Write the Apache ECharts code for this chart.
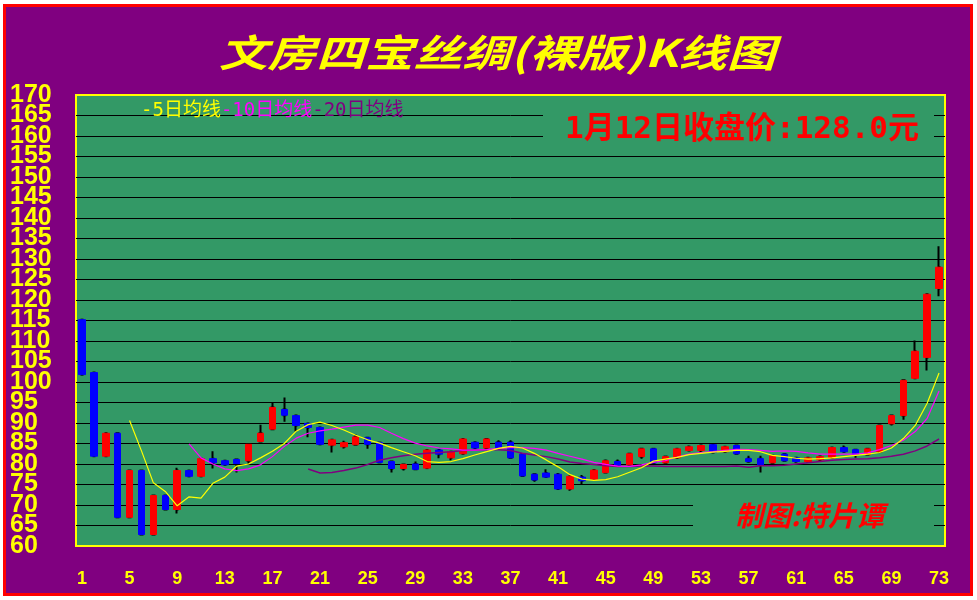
<!DOCTYPE html>
<html>
<head>
<meta charset="utf-8">
<script src="https://cdn.jsdelivr.net/npm/echarts@6/dist/echarts.min.js"></script>
<style>
html,body{margin:0;padding:0;background:#ffffff;}
#c{width:977px;height:600px;}
</style>
</head>
<body>
<div id="c"></div>
<script>
const categories = ['1','2','3','4','5','6','7','8','9','10','11','12','13','14','15','16','17','18','19','20',
'21','22','23','24','25','26','27','28','29','30','31','32','33','34','35','36','37','38','39','40',
'41','42','43','44','45','46','47','48','49','50','51','52','53','54','55','56','57','58','59','60',
'61','62','63','64','65','66','67','68','69','70','71','72','73'];

const opens = [115.2,102.3,81.9,87.5,67.0,78.4,62.8,72.3,68.9,78.4,
77.0,81.3,80.8,81.1,80.8,85.5,88.5,93.3,91.8,89.9,
88.9,84.6,84.2,84.7,86.4,85.2,80.6,78.9,80.0,79.0,
83.4,81.5,82.5,85.3,83.9,85.3,85.3,82.4,77.5,77.8,
77.5,73.9,76.8,76.3,77.9,80.6,79.8,81.8,83.7,80.3,
81.5,83.3,83.3,84.7,83.0,84.5,81.3,81.3,80.3,82.4,
81.5,80.6,81.0,81.5,84.0,83.5,82.3,83.0,89.8,91.8,
100.9,106.0,122.8];
const closes = [101.8,81.9,87.5,67.0,78.4,62.8,72.3,68.9,78.4,77.0,
81.3,80.3,79.8,80.1,84.8,87.5,93.8,91.9,89.4,88.9,
84.8,85.9,85.2,86.6,84.8,80.4,78.9,79.9,78.7,83.4,
82.4,83.0,86.1,83.9,86.1,83.9,81.5,77.1,76.1,76.8,
73.9,77.0,75.9,78.5,80.8,79.6,82.5,83.7,80.3,81.8,
83.7,84.2,84.5,82.8,84.2,82.5,80.6,79.8,82.0,80.8,
80.6,81.5,81.8,84.0,83.0,82.3,83.7,89.4,91.8,100.4,
107.5,121.4,128.0];
const lows = [101.8,81.9,81.9,67.0,67.0,62.8,62.8,68.9,67.9,77.0,
77.0,78.9,79.8,77.9,80.1,85.5,88.5,90.3,87.9,86.5,
84.8,82.8,83.8,84.7,83.7,80.4,77.9,78.4,78.5,79.0,
81.4,80.9,82.5,83.9,83.9,83.9,81.5,77.1,75.7,76.8,
73.9,73.5,75.1,76.3,77.9,79.6,79.8,81.3,80.3,80.3,
81.5,83.3,82.5,82.8,83.0,82.5,80.3,77.9,80.3,80.8,
80.3,80.3,80.8,81.5,83.0,81.5,82.3,82.8,89.4,90.8,
100.9,102.8,120.9];
const highs = [115.2,102.3,87.5,87.5,78.4,78.4,72.3,72.3,79.1,78.4,
81.3,83.1,80.8,81.1,84.8,89.6,94.9,96.2,91.8,89.9,
88.9,85.9,85.7,87.2,86.4,85.2,80.6,79.9,80.6,83.4,
83.4,83.0,86.3,85.3,86.3,85.8,85.8,82.4,77.5,78.7,
77.8,77.0,77.3,78.5,81.1,81.1,82.5,83.7,83.7,81.8,
83.7,84.5,84.5,84.7,84.2,84.5,82.0,82.0,82.0,82.4,
81.5,81.5,81.8,84.0,84.5,83.5,83.7,89.6,92.0,100.4,
110.1,121.4,133.1];

const ma5 = [null,null,null,null,90.6,83.2,75.4,73.3,69.8,72.0,
71.7,75.3,76.8,79.5,80.0,81.5,83.1,85.0,88.0,89.6,
90.2,89.4,88.3,87.0,85.9,85.1,84.0,83.0,82.0,80.6,
80.4,80.6,81.3,82.2,83.0,83.8,84.3,83.9,82.6,81.0,
79.3,77.4,76.3,76.0,76.2,76.9,78.0,79.1,80.7,81.2,
81.6,82.3,82.6,82.9,83.1,83.3,83.3,83.0,82.1,81.8,
81.4,81.2,81.3,81.5,81.8,82.1,82.4,82.8,83.9,86.2,
89.4,94.8,102.2];
const ma10 = [null,null,null,null,null,null,null,null,null,84.9,
81.5,80.0,78.8,78.4,78.8,79.8,81.8,84.3,86.3,87.5,
88.1,88.5,89.0,89.5,89.5,88.9,87.5,86.2,85.1,84.4,
83.9,83.7,83.4,83.4,83.5,83.8,84.0,84.0,83.8,83.4,
82.6,81.9,81.2,80.4,79.9,79.5,79.4,79.8,80.4,80.8,
81.7,82.4,82.8,83.0,83.3,83.6,83.5,83.3,83.1,83.2,
83.1,82.7,82.4,82.4,82.4,82.4,82.7,83.5,84.5,85.8,
87.9,91.1,97.8];
const ma20 = [null,null,null,null,null,null,null,null,null,null,
null,null,null,null,null,null,null,null,null,78.8,
77.8,77.9,78.4,79.0,79.9,80.9,81.5,82.0,82.4,82.6,
82.8,83.0,83.3,83.4,83.5,83.5,83.3,82.6,82.2,81.8,
81.2,80.5,80.1,79.9,79.6,79.4,79.4,79.5,79.5,79.4,
79.4,79.4,79.4,79.4,79.4,79.5,79.2,79.6,79.6,79.7,
80.0,80.3,80.6,80.9,81.1,81.2,81.3,81.5,81.9,82.4,
83.2,84.4,86.1];

const titleText = '文房四宝丝绸(裸版)K线图';
const priceText = '1月12日收盘价:128.0元';
const authorText = '制图:特片谭';

const ohlc = categories.map((_, i) => [opens[i], closes[i], lows[i], highs[i]]);
const bodies = categories.map((_, i) => [opens[i], closes[i], Math.min(opens[i], closes[i]), Math.max(opens[i], closes[i])]);

const yLabelStyle = {
  color: '#ffff00', fontSize: 25, fontWeight: 'bold',
  fontFamily: 'Liberation Sans', align: 'left', verticalAlign: 'middle', margin: 66,
  padding: [3, 0, 0, 0]
};

const chart = echarts.init(document.getElementById('c'));
chart.setOption({
  animation: false,
  backgroundColor: '#800080',
  grid: {
    left: 76, right: 32, top: 95, bottom: 54,
    show: true, backgroundColor: '#339966',
    borderColor: '#ffff00', borderWidth: 2
  },
  xAxis: {
    type: 'category',
    data: categories,
    boundaryGap: true,
    axisLine: { show: false },
    axisTick: { show: false },
    splitLine: { show: false },
    axisLabel: {
      interval: 3, color: '#ffff00', fontSize: 18, fontWeight: 'bold',
      fontFamily: 'Liberation Sans', margin: 24
    }
  },
  yAxis: [
    {
      type: 'value', position: 'left',
      min: 60, max: 170, interval: 5,
      axisLine: { show: false },
      axisTick: { show: false },
      splitLine: { show: true, showMinLine: false, showMaxLine: false, lineStyle: { color: '#000000', width: 1 } },
      axisLabel: Object.assign({}, yLabelStyle, {
        showMinLabel: true, showMaxLabel: true,
        formatter: (v) => (v % 10 === 0 ? String(v) : '')
      })
    },
    {
      type: 'value', position: 'left', offset: 0,
      min: 60, max: 170, interval: 5,
      axisLine: { show: false },
      axisTick: { show: false },
      splitLine: { show: false },
      axisLabel: Object.assign({}, yLabelStyle, {
        formatter: (v) => (v % 10 === 5 ? String(v) : '')
      })
    }
  ],
  graphic: [
    { type: 'rect', silent: true, z: 100,
      shape: { x: 1, y: 1, width: 975, height: 598 },
      style: { fill: 'none', stroke: '#ffffff', lineWidth: 6 } },
    { type: 'rect', silent: true, z: 100,
      shape: { x: 4.5, y: 5.5, width: 967, height: 589 },
      style: { fill: 'none', stroke: '#ff0000', lineWidth: 3 } },
    { type: 'text', silent: true, z: 100, x: 497, y: 53, scaleX: 1.28,
      style: { text: titleText, fill: '#ffff00', fontSize: 38, fontWeight: 'bold', fontStyle: 'italic',
        fontFamily: 'Noto Sans CJK SC', align: 'center', verticalAlign: 'middle' } },
    { type: 'rect', silent: true, z: 50,
      shape: { x: 543, y: 98, width: 391, height: 52 },
      style: { fill: '#339966' } },
    { type: 'rect', silent: true, z: 50,
      shape: { x: 693, y: 490, width: 241, height: 50 },
      style: { fill: '#339966' } },
    { type: 'text', silent: true, z: 60, x: 565, y: 130,
      style: { text: priceText, fill: '#ff0000', fontSize: 31, fontWeight: 'bold',
        fontFamily: "'DejaVu Sans Mono', 'Noto Sans CJK SC'", align: 'left', verticalAlign: 'middle' } },
    { type: 'text', silent: true, z: 60, x: 735, y: 515,
      style: { text: authorText, fill: '#ff0000', fontSize: 28, fontWeight: 'bold', fontStyle: 'italic',
        fontFamily: 'Noto Sans CJK SC', align: 'left', verticalAlign: 'middle' } },
    { type: 'text', silent: true, z: 60, x: 141, y: 111,
      style: {
        text: '{a|-5日均线}{b|-10日均线}{c|-20日均线}',
        align: 'left', verticalAlign: 'middle',
        rich: {
          a: { fill: '#ffff00', color: '#ffff00', fontSize: 19, fontFamily: "'DejaVu Sans Mono', 'Noto Sans CJK SC'" },
          b: { fill: '#ff00ff', color: '#ff00ff', fontSize: 19, fontFamily: "'DejaVu Sans Mono', 'Noto Sans CJK SC'" },
          c: { fill: '#800080', color: '#800080', fontSize: 19, fontFamily: "'DejaVu Sans Mono', 'Noto Sans CJK SC'" }
        }
      } }
  ],
  series: [
    { type: 'candlestick', name: 'wick', data: ohlc, barWidth: 2, silent: true,
      itemStyle: { color: '#000000', color0: '#000000', borderColor: '#000000', borderColor0: '#000000', borderWidth: 2 } },
    { type: 'candlestick', name: 'body', data: bodies, barWidth: 7, silent: true,
      itemStyle: { color: '#ff0000', color0: '#0000ff', borderColor: '#ff0000', borderColor0: '#0000ff', borderWidth: 1 } },
    { type: 'line', name: 'MA20', data: ma20, symbol: 'none', silent: true,
      lineStyle: { color: '#800080', width: 1.5 } },
    { type: 'line', name: 'MA10', data: ma10, symbol: 'none', silent: true,
      lineStyle: { color: '#ff00ff', width: 1.2 } },
    { type: 'line', name: 'MA5', data: ma5, symbol: 'none', silent: true,
      lineStyle: { color: '#ffff00', width: 1.2 } }
  ]
});
</script>
</body>
</html>
